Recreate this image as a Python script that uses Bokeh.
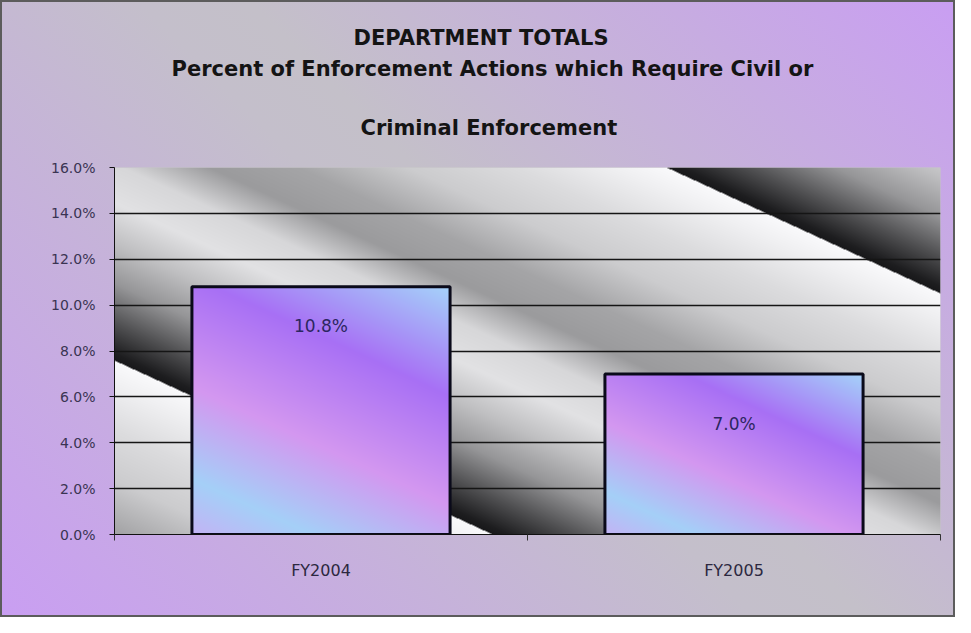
import numpy as np
from bokeh.plotting import figure
from bokeh.models import Range1d, FixedTicker, PrintfTickFormatter, ColumnDataSource, Title
from bokeh.embed import file_html
from bokeh.resources import INLINE
from bokeh.core.properties import value

# ---- data ----
categories = ["FY2004", "FY2005"]
percent_values = [10.8, 7.0]
y_ticks = [0, 2, 4, 6, 8, 10, 12, 14, 16]
title_lines = [
    "DEPARTMENT TOTALS",
    "Percent of Enforcement Actions which Require Civil or",
    "Criminal Enforcement",
]
title_left_px = [239, 57, 246]   # style: left offset of each title line from the plot's left edge
label_drop_px = [39, 50]         # style: how far below the bar top each value label sits

# ---- layout ----
W, H = 955, 617
ML, MR, MT, MB = 114, 15, 167, 83
FW, FH = W - ML - MR, H - MT - MB
Y_MAX = 16
BAR_W = 0.625
SLOPE = 0.46


def pack_rgba(r, g, b):
    h, w = r.shape
    img = np.empty((h, w), dtype=np.uint32)
    v = img.view(dtype=np.uint8).reshape((h, w, 4))
    v[..., 0] = np.clip(r, 0, 255)
    v[..., 1] = np.clip(g, 0, 255)
    v[..., 2] = np.clip(b, 0, 255)
    v[..., 3] = 255
    return img


# metallic diagonal background for the plot area (pure styling)
yy, xx = np.mgrid[0:FH, 0:FW].astype(float) + 0.5
u = yy - SLOPE * xx
t = np.mod(u + 254, 447)
tp = [0, 25, 70, 120, 170, 210, 250, 290, 330, 370, 410, 440, 447]
gp = [250, 240, 220, 204, 165, 155, 215, 226, 192, 150, 80, 30, 24]
gray = np.interp(t, tp, gp)
gray = np.flipud(gray)
bg_img = pack_rgba(gray, gray, gray + 2)

# bar gradient images (sized from the bars themselves)
stops_s = [0.0, 0.3, 0.6, 0.85, 1.0]
stops_r = [165, 168, 212, 165, 195]
stops_g = [212, 112, 152, 208, 180]
stops_b = [250, 245, 240, 248, 245]
bar_imgs = []
px_per_x = FW / 2.0
for v in percent_values:
    bw = int(round(BAR_W * px_per_x))
    bh = max(2, int(round(v / Y_MAX * FH)))
    by, bx = np.mgrid[0:bh, 0:bw].astype(float) + 0.5
    s = by - SLOPE * bx
    s = (s - s.min()) / (s.max() - s.min())
    r = np.interp(s, stops_s, stops_r)
    g = np.interp(s, stops_s, stops_g)
    b = np.interp(s, stops_s, stops_b)
    bar_imgs.append(pack_rgba(np.flipud(r), np.flipud(g), np.flipud(b)))

xs = [i + 0.5 for i in range(len(categories))]
src = ColumnDataSource(dict(
    x=xs,
    left=[x - BAR_W / 2 for x in xs],
    top=percent_values,
    zero=[0] * len(xs),
    dw=[BAR_W] * len(xs),
    img=bar_imgs,
    label=[f"{v:.1f}%" for v in percent_values],
    dy=label_drop_px,
))

p = figure(
    width=W, height=H, output_backend="svg", toolbar_location=None,
    x_range=Range1d(0, len(categories)), y_range=Range1d(0, Y_MAX),
    min_border_left=ML, min_border_right=MR, min_border_top=MT, min_border_bottom=MB,
)
p.border_fill_color = None
p.background_fill_color = "#c8c8c8"
p.outline_line_color = None
p.styles = {
    "background-image": "linear-gradient(45deg, #c99ef2 0%, #c4bfcb 48%, #c4c0c9 55%, #c99ef2 100%)",
    "box-shadow": "inset 0 0 0 2px #5c5c5c",
}

# background
bg = p.image_rgba(image=[bg_img], x=0, y=0, dw=len(categories), dh=Y_MAX)
bg.level = "image"

# bars
p.image_rgba(image="img", x="left", y="zero", dw="dw", dh="top", source=src)
p.vbar(x="x", top="top", width=BAR_W, source=src, fill_alpha=0,
       line_color="#0a0a1a", line_width=3)
p.text(x="x", y="top", text="label", y_offset="dy", source=src,
       text_align="center", text_baseline="middle",
       text_font=value("DejaVu Sans"), text_font_size="17px", text_color="#2c2660")


# title: three lines; p.title is the top one
def style_title(t, offset, standoff):
    t.align = "left"
    t.text_font = "DejaVu Sans"
    t.text_font_style = "bold"
    t.text_font_size = "21px"
    t.text_color = "#141414"
    t.offset = offset
    t.standoff = standoff


p.title.text = title_lines[0]
style_title(p.title, title_left_px[0], 0)
t3 = Title(text=title_lines[2])
style_title(t3, title_left_px[2], 56)
p.add_layout(t3, "above")
t2 = Title(text=title_lines[1])
style_title(t2, title_left_px[1], 10)
p.add_layout(t2, "above")

# y axis
p.yaxis.ticker = FixedTicker(ticks=y_ticks)
p.yaxis.formatter = PrintfTickFormatter(format="%.1f%%")
p.yaxis.axis_line_color = "#111111"
p.yaxis.major_tick_line_color = "#111111"
p.yaxis.major_tick_out = 5
p.yaxis.major_tick_in = 0
p.yaxis.minor_tick_line_color = None
p.yaxis.major_label_text_font = "DejaVu Sans"
p.yaxis.major_label_text_font_size = "14px"
p.yaxis.major_label_text_color = "#3a3452"
p.yaxis.major_label_standoff = 14

# x axis
p.xaxis.ticker = FixedTicker(ticks=xs, minor_ticks=list(range(len(categories) + 1)))
p.xaxis.major_label_overrides = {x: c for x, c in zip(xs, categories)}
p.xaxis.axis_line_color = "#111111"
p.xaxis.major_tick_line_color = None
p.xaxis.major_tick_out = 0
p.xaxis.minor_tick_line_color = "#333333"
p.xaxis.minor_tick_out = 6
p.xaxis.minor_tick_in = 0
p.xaxis.major_label_text_font = "DejaVu Sans"
p.xaxis.major_label_text_font_size = "16px"
p.xaxis.major_label_text_color = "#2c2840"
p.xaxis.major_label_standoff = 20

# grid
p.ygrid.ticker = FixedTicker(ticks=y_ticks)
p.ygrid.grid_line_color = "#151515"
p.ygrid.grid_line_width = 1.5
p.xgrid.grid_line_color = None

open("out.html", "w").write(file_html(p, INLINE))
